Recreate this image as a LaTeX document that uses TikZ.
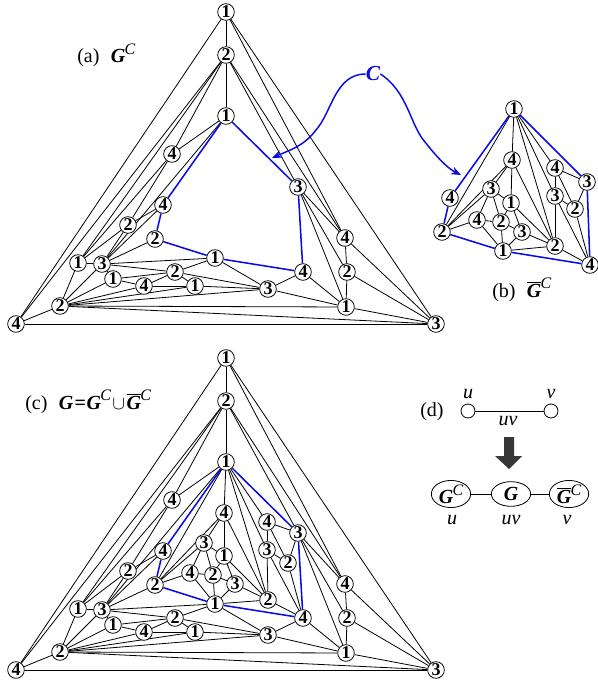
\documentclass[tikz,border=0pt]{standalone}
\usepackage{fontspec}
\setmainfont{Liberation Serif}
\usetikzlibrary{arrows.meta, shapes.geometric, backgrounds}
\definecolor{cycleBlue}{RGB}{10,10,230}
\definecolor{arrowDark}{RGB}{55,55,55}
\newcommand{\boldG}{\textbf{\textit{G}}}
\newcommand{\supC}{\raisebox{.42em}{\fontsize{12}{12}\selectfont\itshape C}}
\newcommand{\graphC}{\boldG\kern-.5pt\supC}
\newcommand{\graphBar}{$\overline{\mbox{\boldG}}$\kern-.5pt\supC}
\newcommand{\outernodes}[2]{
  \foreach \name/\x/\y/\lab in {top/226/12/1, up/226/55/2, rimA/226/116/1, fq/172/154/4,
      rimF/298/187/3, rimB/163/205/4, lm/128/225/2, rimC/155/239/2, lf/78/263/1, lg/102/264/3,
      lh/113/279/1, li/175/272/2, rimD/215/258/1, ll/144/286/4, lo/195/286/1, lw/60/306/2,
      cornerL/16/324/4, ly/268/289/3, rimE/303/272/4, rc/346/307/1, rb/347/272/2, rd/345/238/4,
      cornerR/436/324/3}
    \node[vtx] (#1\name) at (\x,\y+#2) {\lab};
}
\newcommand{\inneredges}[1]{
  \foreach \a/\b in {rimA/rimC, rimA/inA, rimA/inJ, rimA/inH, rimA/inG, rimC/inA, rimC/inB,
      rimC/inD, inA/inB, inA/inC, inA/inJ, inB/inC, inB/inD, inB/inE, inC/inE, inC/inF,
      inC/inJ, inD/inE, inD/rimD, inE/inF, inE/rimD, inF/rimD, inF/inJ, rimD/inJ, inG/inH,
      inG/inI, inG/rimF, inH/inI, inH/inJ, inH/rimE, inI/rimF, inI/rimE, inJ/rimE}
    \draw[edge] (#1\a) -- (#1\b);
}
\newcommand{\outeredges}[1]{
  \foreach \a/\b in {top/cornerL, top/cornerR, cornerL/cornerR, top/up, up/rimA, top/rd,
      up/rd, up/rimF, up/fq, up/lf, up/cornerL, fq/rimA, fq/lm, fq/lf, rimA/lg, lm/lf, lm/lg,
      lm/rimB, lg/rimB, lg/rimC, lf/lg, lf/lw, lg/lw, lg/lh, lg/rimD, lg/li, lh/lw, lh/ll,
      lh/li, ll/lw, ll/li, ll/lo, li/lo, li/rimD, li/ly, lo/ly, lo/lw, rimD/ly, lw/ly, lw/rc,
      lw/cornerR, lw/cornerL, ly/rimE, ly/rc, rimE/rc, rimF/rd, rimF/rb, rimF/rc, rd/rb,
      rb/rc, rd/cornerR, rb/cornerR, rc/cornerR}
    \draw[edge] (#1\a) -- (#1\b);
}
\newcommand{\rimedges}[1]{
  \foreach \a/\b in {rimA/rimB, rimB/rimC, rimC/rimD, rimD/rimE, rimE/rimF, rimF/rimA}
    \draw[cycleedge] (#1\a) -- (#1\b);
}

\begin{document}
\begin{tikzpicture}[x=0.75pt, y=-0.75pt,
vtx/.style={circle, draw, fill=white, line width=0.6pt, minimum size=12.5pt, inner sep=0pt,
font=\fontsize{13.5}{13.5}\selectfont\bfseries},
edge/.style={line width=0.6pt},
cycleedge/.style={line width=1.15pt, color=cycleBlue},
curve/.style={-{Stealth[length=7.5pt, width=6pt]}, line width=1.1pt, color=cycleBlue},
lbl/.style={inner sep=0pt, font=\fontsize{15}{15}\selectfont},
small/.style={circle, draw, fill=white, line width=0.6pt, minimum size=10.5pt, inner sep=0pt},
part/.style={ellipse, draw, fill=white, line width=0.6pt, minimum width=29.5pt,
minimum height=18.5pt, inner sep=0pt, font=\fontsize{15}{15}\selectfont},
var/.style={inner sep=0pt, font=\fontsize{15}{15}\selectfont\itshape}]
\useasboundingbox (0,0) rectangle (597,681);

% part (a)
\outernodes{a}{0}
\begin{scope}[on background layer]
\outeredges{a}
\rimedges{a}
\end{scope}
\node[lbl, anchor=base west] (labelA) at (77,63) {(a)\hspace{8.5pt}\graphC};

% part (b)
\foreach \name/\x/\y/\lab in {rimA/514/109/1, rimB/450/198/4, rimC/442/232/2, rimD/503/251/1,
    rimE/590/265/4, rimF/587/182/3, inA/512/160/4, inB/491/189/3, inC/511/203/1, inD/477/220/4,
    inE/501/222/2, inF/522/232/3, inG/555/168/4, inH/555/196/3, inI/575/209/2, inJ/555/246/2}
  \node[vtx] (b\name) at (\x,\y) {\lab};
\begin{scope}[on background layer]
\inneredges{b}
\rimedges{b}
\end{scope}
\node[lbl, anchor=base west] (labelB) at (492,297) {(b)\hspace{8.5pt}\graphBar};

% the cycle and its two arrows
\node[lbl, text=cycleBlue, font=\fontsize{16}{16}\selectfont\bfseries\itshape] (cyc) at (373,74) {C};
\coordinate (tipA) at (272,158);
\coordinate (bendA) at (316,130);
\coordinate (tipB) at (461,175);
\coordinate (bendB) at (425,142);
\draw[curve] (cyc.west) .. controls (335,74) and (332,112) .. (bendA)
  .. controls (304,146) and (290,150) .. (tipA);
\draw[curve] (cyc.east) .. controls (408,92) and (410,125) .. (bendB)
  .. controls (436,156) and (447,168) .. (tipB);

% part (c)
\outernodes{c}{346}
\foreach \name/\x/\y/\lab in {inA/224/513/4, inB/204/543/3, inC/224/556/1, inD/190/573/4,
    inE/213/575/2, inF/235/584/3, inG/267/522/4, inH/267/550/3, inI/288/563/2, inJ/268/600/2}
  \node[vtx] (c\name) at (\x,\y) {\lab};
\begin{scope}[on background layer]
\outeredges{c}
\inneredges{c}
\rimedges{c}
\end{scope}
\node[lbl, anchor=base west] (labelC) at (25,409)
  {(c)\hspace{8.5pt}\boldG\kern1pt\textbf{=}\kern.5pt\graphC\kern1pt$\cup$\kern1pt\graphBar};

% part (d)
\node[lbl, anchor=west] (labelD) at (420,412) {(d)};
\node[small] (u) at (468,411) {};
\node[small] (v) at (551,411) {};
\draw[edge] (u) -- (v);
\node[var] (labelU) at (468,394) {u};
\node[var] (labelV) at (551,394) {v};
\node[var] (labelUV) at (508,421) {uv};
\fill[arrowDark] (504,437) -- (514,437) -- (514,456) -- (522,456) -- (509,469) -- (495,456)
  -- (504,456) -- cycle;
\node[part] (partC) at (451,494) {\graphC};
\node[part] (partG) at (511,494) {\boldG};
\node[part] (partBar) at (569,494) {\graphBar};
\draw[edge] (partC) -- (partG);
\draw[edge] (partG) -- (partBar);
\node[var] (belowU) at (452,520) {u};
\node[var] (belowUV) at (511,520) {uv};
\node[var] (belowV) at (567,520) {v};
\end{tikzpicture}
\end{document}
